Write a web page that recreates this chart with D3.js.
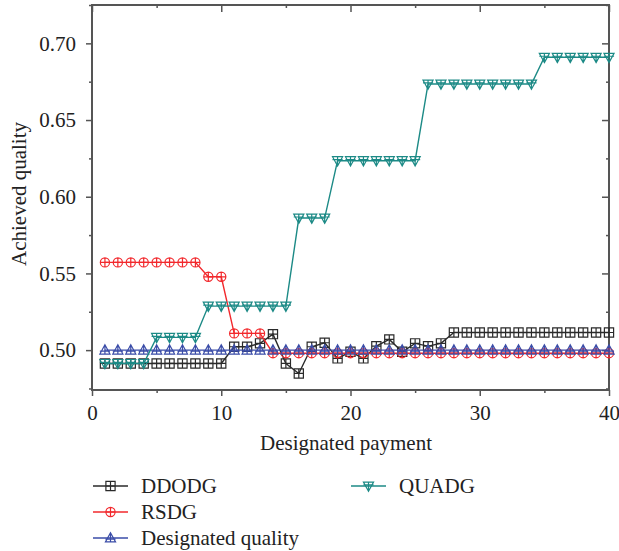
<!DOCTYPE html>
<html>
<head>
<meta charset="utf-8">
<script src="https://cdn.jsdelivr.net/npm/d3@7"></script>
<style>
  body { margin: 0; background: #fff; }
  svg { display: block; }
</style>
</head>
<body>
<svg id="chart" width="619" height="551"></svg>
<script>
// data
const payment = [1,2,3,4,5,6,7,8,9,10,11,12,13,14,15,16,17,18,19,20,
                 21,22,23,24,25,26,27,28,29,30,31,32,33,34,35,36,37,38,39,40];
const ddodg = [0.4913,0.4913,0.4913,0.4913,0.4913,0.4913,0.4913,0.4913,0.4913,0.4913,
               0.5022,0.5022,0.5044,0.5104,0.4913,0.4848,0.5022,0.5048,0.4946,0.4989,
               0.4946,0.5026,0.5070,0.4989,0.5044,0.5026,0.5044,0.5115,0.5115,0.5115,
               0.5115,0.5115,0.5115,0.5115,0.5115,0.5115,0.5115,0.5115,0.5115,0.5115];
const rsdg = [0.5572,0.5572,0.5572,0.5572,0.5572,0.5572,0.5572,0.5572,0.5478,0.5478,
              0.5109,0.5109,0.5109,0.498,0.498,0.498,0.498,0.498,0.498,0.498,
              0.498,0.498,0.498,0.498,0.498,0.498,0.498,0.498,0.498,0.498,
              0.498,0.498,0.498,0.498,0.498,0.498,0.498,0.498,0.498,0.498];
const designated = [0.5,0.5,0.5,0.5,0.5,0.5,0.5,0.5,0.5,0.5,
                    0.5,0.5,0.5,0.5,0.5,0.5,0.5,0.5,0.5,0.5,
                    0.5,0.5,0.5,0.5,0.5,0.5,0.5,0.5,0.5,0.5,
                    0.5,0.5,0.5,0.5,0.5,0.5,0.5,0.5,0.5,0.5];
const quadg = [0.4913,0.4913,0.4913,0.4913,0.5083,0.5083,0.5083,0.5083,0.5287,0.5287,
               0.5287,0.5287,0.5287,0.5287,0.5287,0.5861,0.5861,0.5861,0.6235,0.6235,
               0.6235,0.6235,0.6235,0.6235,0.6235,0.6735,0.6735,0.6735,0.6735,0.6735,
               0.6735,0.6735,0.6735,0.6735,0.6909,0.6909,0.6909,0.6909,0.6909,0.6909];
const xTicks = [0, 10, 20, 30, 40];
const yTicks = [0.50, 0.55, 0.60, 0.65, 0.70];

const seriesNames = ["DDODG", "RSDG", "Designated quality", "QUADG"];
const seriesColors = ["#2a2a2a", "#f2282c", "#3a4ca8", "#1c8a86"];
const seriesShapes = ["square", "circle", "triUp", "triDown"];
const seriesValues = [ddodg, rsdg, designated, quadg];

const svg = d3.select("#chart");
const font = '"Liberation Serif", "Times New Roman", serif';
const fontSize = 21;
const mLeft = 92, mRight = 609, mTop = 5, mBottom = 390;

const x = d3.scaleLinear().domain([0, 40]).range([mLeft, mRight]);
const y = d3.scaleLinear().domain([0.474, 0.725]).range([mBottom, mTop]);

const axisColor = "#555";

// marker outline + inner plus
function markerPath(shape, r) {
  const p = d3.path();
  if (shape === "square") {
    p.rect(-r, -r, 2 * r, 2 * r);
    p.moveTo(-r, 0); p.lineTo(r, 0);
    p.moveTo(0, -r); p.lineTo(0, r);
  } else if (shape === "circle") {
    p.moveTo(r, 0); p.arc(0, 0, r, 0, 2 * Math.PI);
    p.moveTo(-r, 0); p.lineTo(r, 0);
    p.moveTo(0, -r); p.lineTo(0, r);
  } else if (shape === "triUp") {
    const h = r * 1.15;
    p.moveTo(0, -h); p.lineTo(r * 1.1, h * 0.75); p.lineTo(-r * 1.1, h * 0.75); p.closePath();
    p.moveTo(-r * 1.1, h * 0.2); p.lineTo(r * 1.1, h * 0.2);
    p.moveTo(0, -h); p.lineTo(0, h * 0.75);
  } else {
    const h = r * 1.15;
    p.moveTo(0, h); p.lineTo(r * 1.1, -h * 0.75); p.lineTo(-r * 1.1, -h * 0.75); p.closePath();
    p.moveTo(-r * 1.1, -h * 0.2); p.lineTo(r * 1.1, -h * 0.2);
    p.moveTo(0, h); p.lineTo(0, -h * 0.75);
  }
  return p.toString();
}

// axes
const minorX = [5, 15, 25, 35];
const minorY = [0.475, 0.525, 0.575, 0.625, 0.675, 0.725];

function styleAxis(g) {
  g.select(".domain").remove();
  g.selectAll("line").attr("stroke", axisColor).attr("stroke-width", 1.5);
  g.selectAll("text")
    .style("font-family", font).style("font-size", fontSize + "px")
    .attr("fill", "#222");
}

svg.append("g").attr("transform", `translate(0,${mBottom})`)
  .call(d3.axisBottom(x).tickValues(xTicks).tickSize(6).tickPadding(9).tickFormat(d3.format("d")))
  .call(styleAxis);
svg.append("g").attr("transform", `translate(0,${mBottom})`)
  .call(d3.axisBottom(x).tickValues(minorX).tickSize(3).tickFormat(""))
  .call(styleAxis);
svg.append("g").attr("transform", `translate(0,${mTop})`)
  .call(d3.axisTop(x).tickValues(xTicks).tickSize(-7).tickFormat(""))
  .call(styleAxis);
svg.append("g").attr("transform", `translate(0,${mTop})`)
  .call(d3.axisTop(x).tickValues(minorX).tickSize(-3).tickFormat(""))
  .call(styleAxis);

svg.append("g").attr("transform", `translate(${mLeft},0)`)
  .call(d3.axisLeft(y).tickValues(yTicks).tickSize(6).tickPadding(10).tickFormat(d3.format(".2f")))
  .call(styleAxis);
svg.append("g").attr("transform", `translate(${mLeft},0)`)
  .call(d3.axisLeft(y).tickValues(minorY).tickSize(3).tickFormat(""))
  .call(styleAxis);
svg.append("g").attr("transform", `translate(${mRight},0)`)
  .call(d3.axisRight(y).tickValues(yTicks).tickSize(-7).tickFormat(""))
  .call(styleAxis);
svg.append("g").attr("transform", `translate(${mRight},0)`)
  .call(d3.axisRight(y).tickValues(minorY).tickSize(-3).tickFormat(""))
  .call(styleAxis);

// frame
svg.append("rect")
  .attr("x", mLeft).attr("y", mTop)
  .attr("width", mRight - mLeft).attr("height", mBottom - mTop)
  .attr("fill", "none").attr("stroke", axisColor).attr("stroke-width", 2);

// axis titles
svg.append("text")
  .attr("x", 346).attr("y", 450)
  .attr("text-anchor", "middle")
  .style("font-family", font).style("font-size", fontSize + "px")
  .attr("fill", "#222")
  .text("Designated payment");
svg.append("text")
  .attr("transform", `translate(26,194) rotate(-90)`)
  .attr("text-anchor", "middle")
  .style("font-family", font).style("font-size", fontSize + "px")
  .attr("fill", "#222")
  .text("Achieved quality");

// series
const line = d3.line().x((d, i) => x(payment[i])).y(d => y(d));

seriesValues.forEach((vals, s) => {
  const g = svg.append("g");
  g.append("path")
    .attr("d", line(vals))
    .attr("fill", "none")
    .attr("stroke", seriesColors[s])
    .attr("stroke-width", 1.4);
  g.selectAll("path.mk")
    .data(vals)
    .join("path")
    .attr("class", "mk")
    .attr("transform", (d, i) => `translate(${x(payment[i])},${y(d)})`)
    .attr("d", markerPath(seriesShapes[s], 4.6))
    .attr("fill", "none")
    .attr("stroke", seriesColors[s])
    .attr("stroke-width", 1.2);
});

// legend
const legendPos = [[93, 486], [93, 512], [93, 538], [351, 486]];
seriesNames.forEach((name, s) => {
  const [lx, ly] = legendPos[s];
  const g = svg.append("g").attr("transform", `translate(${lx},${ly})`);
  g.append("line").attr("x1", 0).attr("x2", 35).attr("y1", 0).attr("y2", 0)
    .attr("stroke", seriesColors[s]).attr("stroke-width", 1.4);
  g.append("path").attr("transform", "translate(17.5,0)")
    .attr("d", markerPath(seriesShapes[s], 4.6))
    .attr("fill", "none").attr("stroke", seriesColors[s]).attr("stroke-width", 1.2);
  g.append("text").attr("x", 48).attr("y", 7)
    .style("font-family", font).style("font-size", fontSize + "px")
    .attr("fill", "#222")
    .text(name);
});
</script>
</body>
</html>
